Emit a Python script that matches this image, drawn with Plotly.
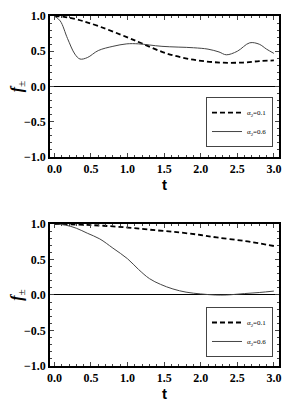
import plotly.graph_objects as go

# Top panel data
t_top_a = [0.0, 0.15, 0.35, 0.62, 0.99, 1.2, 1.53, 1.9, 2.26, 2.58, 2.8, 3.0]
f_top_a = [1.0, 0.985, 0.94, 0.85, 0.70, 0.61, 0.47, 0.38, 0.34, 0.34, 0.36, 0.37]
t_top_b = [0.0, 0.08, 0.18, 0.28, 0.35, 0.45, 0.6, 0.8, 0.99, 1.15, 1.47, 1.9, 2.1, 2.25, 2.35, 2.5, 2.67, 2.8, 2.9, 3.0]
f_top_b = [1.0, 0.93, 0.68, 0.46, 0.39, 0.41, 0.51, 0.57, 0.605, 0.605, 0.57, 0.55, 0.53, 0.49, 0.45, 0.50, 0.62, 0.60, 0.53, 0.47]

# Bottom panel data
t_bot_a = [0.0, 0.5, 1.0, 1.4, 1.72, 2.0, 2.22, 2.6, 3.0]
f_bot_a = [1.0, 0.985, 0.95, 0.91, 0.88, 0.845, 0.81, 0.76, 0.69]
t_bot_b = [0.0, 0.15, 0.3, 0.45, 0.62, 0.8, 1.0, 1.15, 1.3, 1.45, 1.62, 1.8, 2.0, 2.2, 2.35, 2.6, 2.8, 3.0]
f_bot_b = [1.0, 0.985, 0.94, 0.87, 0.79, 0.66, 0.51, 0.36, 0.23, 0.15, 0.085, 0.04, 0.015, 0.0, 0.0, 0.02, 0.035, 0.055]

labels = ["α<sub>2</sub>=0.1", "α<sub>2</sub>=0.6"]
x_ticks = [0.0, 0.5, 1.0, 1.5, 2.0, 2.5, 3.0]
x_ticktext = ["<b>0.0</b>", "<b>0.5</b>", "<b>1.0</b>", "<b>1.5</b>", "<b>2.0</b>", "<b>2.5</b>", "<b>3.0</b>"]
y_ticks = [-1.0, -0.5, 0.0, 0.5, 1.0]
y_ticktext = ["<b>−1.0</b>", "<b>−0.5</b>", "<b>0.0</b>", "<b>0.5</b>", "<b>1.0</b>"]

fig = go.Figure()
fig.add_trace(go.Scatter(x=t_top_a, y=f_top_a, mode="lines", line=dict(color="black", width=1.8, dash="5px,3px", shape="spline"),
                         name=labels[0], xaxis="x", yaxis="y", legend="legend"))
fig.add_trace(go.Scatter(x=t_top_b, y=f_top_b, mode="lines", line=dict(color="#444", width=1.0, shape="spline"),
                         name=labels[1], xaxis="x", yaxis="y", legend="legend"))
fig.add_trace(go.Scatter(x=t_bot_a, y=f_bot_a, mode="lines", line=dict(color="black", width=1.8, dash="5px,3px", shape="spline"),
                         name=labels[0], xaxis="x2", yaxis="y2", legend="legend2"))
fig.add_trace(go.Scatter(x=t_bot_b, y=f_bot_b, mode="lines", line=dict(color="#444", width=1.0, shape="spline"),
                         name=labels[1], xaxis="x2", yaxis="y2", legend="legend2"))

tickfont = dict(family="Liberation Serif", size=12, color="black")

def xax(domain_anchor):
    return dict(domain=[0.1438, 0.9281], range=[-0.06, 3.07], anchor=domain_anchor, automargin=False,
                tickvals=x_ticks, ticktext=x_ticktext, ticks="inside", ticklen=4, tickwidth=1,
                minor=dict(dtick=0.1, ticks="inside", ticklen=2, tickwidth=1, tick0=0),
                showline=True, linecolor="black", linewidth=1.6, mirror="allticks",
                showgrid=False, zeroline=False, tickfont=tickfont, ticklabelstandoff=0,
                title=dict(text="<b>t</b>", font=dict(family="Liberation Sans", size=15, color="black"), standoff=0))

def yax(domain, anchor):
    return dict(domain=domain, range=[-1.0, 1.0], anchor=anchor, automargin=False,
                tickvals=y_ticks, ticktext=y_ticktext, ticks="inside", ticklen=4, tickwidth=1,
                minor=dict(dtick=0.1, ticks="inside", ticklen=2, tickwidth=1, tick0=0),
                showline=True, linecolor="black", linewidth=1.6, mirror="allticks",
                showgrid=False, zeroline=True, zerolinecolor="black", zerolinewidth=1,
                tickfont=tickfont,
                title=dict(text="<b><i>f</i></b><sub>±</sub>", font=dict(family="Liberation Serif", size=16, color="black"), standoff=6))

legend_common = dict(bgcolor="white", bordercolor="#444", borderwidth=1, font=dict(family="Liberation Serif", size=7, color="black"),
                     xanchor="right", yanchor="bottom", itemwidth=30, tracegroupgap=0)

fig.update_layout(
    width=292, height=395, margin=dict(l=0, r=0, t=0, b=0, pad=0, autoexpand=False),
    paper_bgcolor="white", plot_bgcolor="white", showlegend=True,
    xaxis=xax("y"), yaxis=yax([0.6228, 0.9797], "x"),
    xaxis2=xax("y2"), yaxis2=yax([0.0937, 0.4532], "x2"),
    legend=dict(x=0.9075, y=0.648, **legend_common),
    legend2=dict(x=0.9075, y=0.1165, **legend_common),
)

fig.write_html("out.html")
